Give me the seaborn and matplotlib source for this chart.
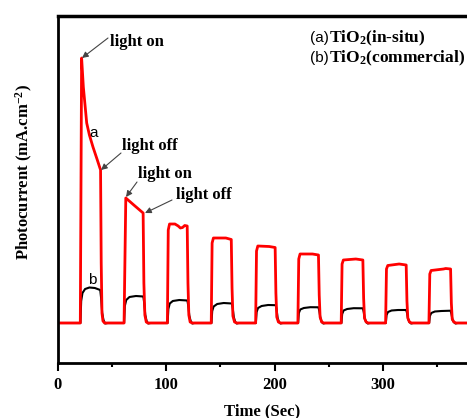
import matplotlib
matplotlib.use("Agg")
import matplotlib.pyplot as plt
import seaborn as sns
import pandas as pd

# ---- data (arbitrary photocurrent units, baseline = 0) ----
red_time = [0, 20.6, 21.8, 23.4, 26.5, 29.0, 32.3, 36.0, 39.3, 39.9, 40.6, 41.5, 43.0,
            61.0, 62.6, 70.0, 78.6, 79.3, 80.2, 81.5, 83.0,
            101.0, 101.8, 103.0, 108.0, 111.0, 113.0, 115.0, 117.0, 119.3, 120.0, 120.8, 122.0, 124.0,
            141.5, 142.3, 143.5, 155.0, 160.0, 160.7, 161.5, 163.0, 165.0,
            182.5, 183.3, 184.5, 195.0, 200.5, 201.2, 202.0, 203.5, 205.5,
            221.5, 222.3, 223.5, 235.0, 240.5, 241.2, 242.0, 243.5, 245.5,
            261.5, 262.3, 263.5, 275.0, 281.5, 282.2, 283.0, 284.5, 286.5,
            302.5, 303.3, 304.5, 315.0, 321.5, 322.2, 323.0, 324.5, 326.5,
            342.5, 343.3, 344.5, 356.0, 358.0, 362.5, 363.2, 364.0, 365.5, 367.5,
            380.0]
red_value = [0, 0, 2.65, 2.36, 2.00, 1.88, 1.76, 1.64, 1.53, 0.60, 0.10, 0.02, 0,
             0, 1.25, 1.18, 1.10, 0.40, 0.08, 0.01, 0,
             0, 0.93, 0.99, 0.99, 0.97, 0.95, 0.955, 0.975, 0.97, 0.40, 0.08, 0.01, 0,
             0, 0.80, 0.85, 0.85, 0.835, 0.35, 0.07, 0.01, 0,
             0, 0.72, 0.77, 0.765, 0.755, 0.30, 0.06, 0.01, 0,
             0, 0.64, 0.69, 0.69, 0.68, 0.28, 0.06, 0.01, 0,
             0, 0.59, 0.63, 0.64, 0.63, 0.25, 0.05, 0.01, 0,
             0, 0.54, 0.575, 0.59, 0.58, 0.22, 0.05, 0.01, 0,
             0, 0.49, 0.525, 0.54, 0.545, 0.54, 0.20, 0.04, 0.01, 0,
             0]

black_time = [0, 20.7, 21.4, 22.6, 25.0, 29.0, 34.0, 39.0, 39.8, 40.8, 42.0, 43.5, 46.0,
              61.0, 61.7, 63.0, 66.0, 72.0, 78.8, 79.6, 80.6, 81.8, 83.3, 85.5,
              101.2, 101.9, 103.2, 106.0, 112.0, 119.5, 120.3, 121.3, 122.5, 124.0, 126.0,
              141.7, 142.4, 143.7, 147.0, 153.0, 160.5, 161.3, 162.3, 163.5, 165.0, 167.0,
              182.7, 183.4, 184.7, 188.0, 194.0, 201.0, 201.8, 202.8, 204.0, 205.5, 207.5,
              221.7, 222.4, 223.7, 227.0, 233.0, 240.5, 241.3, 242.3, 243.5, 245.0, 247.0,
              261.7, 262.4, 263.7, 267.0, 273.0, 281.5, 282.3, 283.3, 284.5, 286.0, 288.0,
              302.7, 303.4, 304.7, 308.0, 314.0, 321.5, 322.3, 323.3, 324.5, 326.0, 328.0,
              342.7, 343.4, 344.7, 348.0, 354.0, 362.5, 363.3, 364.3, 365.5, 367.0, 369.0,
              380.0]
black_value = [0, 0, 0.22, 0.30, 0.34, 0.355, 0.35, 0.33, 0.25, 0.10, 0.03, -0.005, 0,
               0, 0.17, 0.23, 0.26, 0.27, 0.265, 0.20, 0.08, 0.02, -0.005, 0,
               0, 0.14, 0.195, 0.22, 0.23, 0.225, 0.17, 0.07, 0.02, -0.005, 0,
               0, 0.12, 0.165, 0.19, 0.20, 0.195, 0.15, 0.06, 0.015, -0.005, 0,
               0, 0.11, 0.15, 0.17, 0.18, 0.178, 0.14, 0.05, 0.01, -0.005, 0,
               0, 0.10, 0.135, 0.15, 0.158, 0.157, 0.12, 0.05, 0.01, -0.005, 0,
               0, 0.09, 0.125, 0.14, 0.148, 0.147, 0.11, 0.04, 0.01, -0.005, 0,
               0, 0.08, 0.11, 0.125, 0.13, 0.13, 0.10, 0.04, 0.01, -0.005, 0,
               0, 0.07, 0.10, 0.115, 0.12, 0.123, 0.09, 0.03, 0.01, -0.005, 0,
               0]

x_ticks = [0, 100, 200, 300]
x_tick_labels = ["0", "100", "200", "300"]

# ---- style ----
sns.set_style("ticks", {"axes.edgecolor": "black", "xtick.color": "black",
                        "ytick.color": "black", "text.color": "black",
                        "axes.labelcolor": "black"})
plt.rcParams["font.family"] = ["Liberation Serif", "DejaVu Serif"]
plt.rcParams["mathtext.fontset"] = "custom"
plt.rcParams["mathtext.rm"] = "Liberation Serif:bold"
plt.rcParams["mathtext.it"] = "Liberation Serif:bold"
plt.rcParams["mathtext.bf"] = "Liberation Serif:bold"

W, H = 467, 418
fig = plt.figure(figsize=(W / 100, H / 100), dpi=100)
L, R, T, B = 58, 467, 16, 363
ax = fig.add_axes([L / W, 1 - B / H, (R - L) / W, (B - T) / H])

df_b = pd.DataFrame({"t": black_time, "v": black_value})
df_r = pd.DataFrame({"t": red_time, "v": red_value})
sns.lineplot(data=df_b, x="t", y="v", ax=ax, color="black", lw=1.5,
             sort=False, estimator=None)
sns.lineplot(data=df_r, x="t", y="v", ax=ax, color="#ff0000", lw=2.0,
             sort=False, estimator=None)

px_per_s = 1.083
xmax = (R - L) / px_per_s
ax.set_xlim(0, xmax)
ax.set_ylim(-(B - 323) / 100, (323 - T) / 100)


def d(px, py):
    return ((px - L) / px_per_s, (323 - py) / 100)


ax.set_xticks(x_ticks)
ax.set_xticklabels(x_tick_labels, fontsize=12, fontweight="bold")
ax.set_xticks([50, 150, 250, 350], minor=True)
ax.tick_params(axis="x", which="major", direction="out", length=6, width=1.5, pad=4,
               color="black", labelcolor="black")
ax.tick_params(axis="x", which="minor", direction="out", length=3, width=1.5, color="black")
ax.set_yticks([])
ax.set_xlabel("")
ax.set_ylabel("")
for s in ["left", "bottom", "top"]:
    ax.spines[s].set_color("black")
for s in ["left", "bottom"]:
    ax.spines[s].set_linewidth(2.0)
ax.spines["top"].set_linewidth(2.5)
ax.spines["right"].set_visible(False)

# annotations
arrow_kw = dict(arrowstyle="-|>", color="#444444", lw=0.8, mutation_scale=9,
                shrinkA=0, shrinkB=0)
arrows = [((108, 38), (82, 58)), ((121, 153), (101, 170)),
          ((137, 182), (126, 197)), ((172, 200), (145, 213))]
for tail, tip in arrows:
    ax.annotate("", xy=d(*tip), xytext=d(*tail), arrowprops=arrow_kw)

texts = [("light on", (110, 42)), ("light off", (122, 146)),
         ("light on", (138, 174)), ("light off", (176, 195))]
for s, (px, py) in texts:
    ax.text(*d(px, py), s, fontsize=12, fontweight="bold", ha="left", va="center",
            color="black")

ax.text(*d(94, 133), "a", fontsize=11, family="Liberation Sans", ha="center", va="center")
ax.text(*d(92, 280), "b", fontsize=11, family="Liberation Sans", ha="center", va="center")

# legend text
ax.text(*d(310, 38), "(a)", fontsize=11, family="Liberation Sans", ha="left", va="center")
ax.text(*d(329, 38), "TiO$_2$(in-situ)", fontsize=12.5, fontweight="bold", ha="left", va="center")
ax.text(*d(310, 58), "(b)", fontsize=11, family="Liberation Sans", ha="left", va="center")
ax.text(*d(329, 58), "TiO$_2$(commercial)", fontsize=12.5, fontweight="bold", ha="left", va="center")

fig.text(24 / W, 1 - 172 / H, "Photocurrent (mA.cm$^{-2}$)", rotation=90,
         fontsize=12, fontweight="bold", ha="center", va="center", color="black")
fig.text(262 / W, 1 - 411 / H, "Time (Sec)", fontsize=12, fontweight="bold",
         ha="center", va="center", color="black")

fig.savefig("out.png", dpi=100)
